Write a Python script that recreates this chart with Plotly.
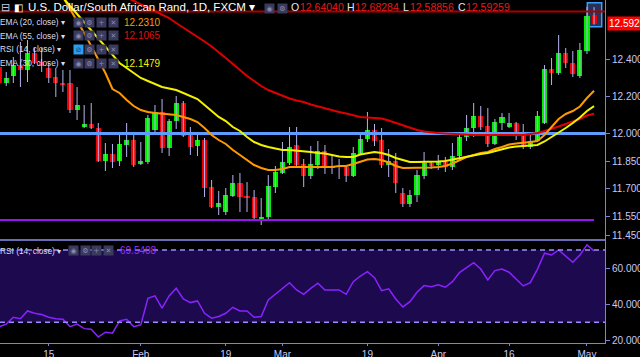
import plotly.graph_objects as go
import pandas as pd

# ---------------- data ----------------
dates = pd.bdate_range("2018-01-04", "2018-05-02")

opens = [12.3594, 12.2730, 12.3108, 12.3702, 12.3432, 12.4351, 12.3865, 12.3540, 12.3054, 12.2730,
         12.2730, 12.1270, 12.0351, 12.0513, 12.0297, 11.8513, 11.8892, 11.8513, 11.9378, 11.9648,
         11.8351, 11.8459, 12.0189, 12.1162, 11.9216, 12.0675, 12.1648, 11.9973, 11.9324, 11.9648,
         11.7108, 11.6027, 11.5757, 11.6621, 11.7324, 11.6621, 11.6567, 11.5324, 11.5486, 11.7108,
         11.7865, 11.8405, 11.9378, 11.8351, 11.7702, 11.8297, 11.9054, 11.8135, 11.8243, 11.8189,
         11.7702, 11.8892, 11.9702, 12.0189, 11.9648, 11.8297, 11.8513, 11.6784, 11.6189, 11.6675,
         11.7702, 11.8405, 11.8297, 11.8459, 11.8189, 11.8784, 11.9811, 12.0297, 12.0946, 12.0405,
         11.9432, 12.0567, 12.0351, 12.0567, 11.9973, 11.9270, 11.9594, 12.0567, 12.3486, 12.3270,
         12.4351, 12.3811, 12.3108, 12.4459, 12.64040]
highs = [12.3865, 12.3324, 12.4135, 12.4946, 12.5054, 12.4621, 12.4621, 12.3811, 12.3540, 12.3432,
         12.3432, 12.2513, 12.1540, 12.1648, 12.0567, 11.9486, 11.9432, 12.0027, 12.0567, 11.9919,
         11.9540, 12.1000, 12.1540, 12.1865, 12.0784, 12.2027, 12.1757, 12.0351, 12.0027, 11.9757,
         11.7486, 11.6892, 11.7054, 11.7757, 11.7865, 11.7378, 11.6946, 11.6513, 11.7757, 11.8243,
         11.9540, 12.0351, 12.0351, 11.8621, 11.9324, 11.9594, 11.9378, 11.8784, 11.8621, 11.8297,
         11.9270, 12.0081, 12.1162, 12.0513, 12.0297, 11.9162, 11.8946, 11.7054, 11.6946, 11.8027,
         11.9000, 11.8459, 11.8838, 11.8730, 11.9486, 11.9973, 12.1000, 12.1648, 12.1486, 12.1378,
         12.0784, 12.1108, 12.1108, 12.0621, 12.0513, 11.9973, 12.1216, 12.3702, 12.4081, 12.5324,
         12.4621, 12.4459, 12.4892, 12.6838, 12.68284]
lows = [12.2567, 12.2567, 12.2730, 12.2513, 12.2784, 12.3757, 12.3324, 12.2730, 12.1973, 12.2243,
        12.1108, 12.0730, 12.0297, 12.0243, 11.8459, 11.7973, 11.8135, 11.8243, 11.8730, 11.8189,
        11.8297, 11.8351, 11.9919, 11.8946, 11.8784, 12.0243, 11.9811, 11.8838, 11.8784, 11.6567,
        11.5973, 11.5594, 11.5594, 11.6567, 11.5757, 11.5757, 11.5378, 11.5054, 11.5270, 11.6784,
        11.7811, 11.8297, 11.8243, 11.7108, 11.7540, 11.8081, 11.7811, 11.7811, 11.7540, 11.7378,
        11.7648, 11.8838, 11.9540, 11.9324, 11.8135, 11.7648, 11.6784, 11.6027, 11.6027, 11.6297,
        11.7540, 11.8081, 11.8027, 11.7919, 11.8027, 11.8567, 11.9594, 11.9811, 12.0189, 11.9270,
        11.9378, 12.0189, 12.0297, 11.9648, 11.9162, 11.9162, 11.9540, 12.0513, 12.2621, 12.3162,
        12.3540, 12.3054, 12.3000, 12.4297, 12.58856]
closes = [12.2730, 12.3000, 12.3702, 12.3432, 12.4351, 12.3811, 12.3648, 12.3000, 12.2730, 12.2621,
          12.1270, 12.1540, 12.0513, 12.0297, 11.8513, 11.8892, 11.8459, 11.9432, 11.9648, 11.8297,
          11.8513, 12.0838, 12.1162, 11.9216, 12.0675, 12.1648, 11.9865, 11.9270, 11.9648, 11.7054,
          11.6027, 11.6243, 11.6675, 11.7324, 11.6567, 11.6513, 11.5432, 11.5486, 11.7162, 11.7919,
          11.8459, 11.9270, 11.8297, 11.7702, 11.8351, 11.9054, 11.8189, 11.8243, 11.8189, 11.7702,
          11.8946, 11.9702, 12.0189, 11.9594, 11.8297, 11.8513, 11.7324, 11.6189, 11.6675, 11.7757,
          11.8405, 11.8243, 11.8459, 11.8189, 11.8784, 11.9811, 12.0297, 12.0946, 12.0351, 11.9432,
          12.0621, 12.0892, 12.0567, 11.9973, 11.9270, 11.9594, 12.0946, 12.3486, 12.3270, 12.4351,
          12.3811, 12.3216, 12.4513, 12.6351, 12.59259]

N = None
ema20 = [N, N, N, N, N, N, N, N,
         12.8027, 12.7378, 12.6784, 12.6135, 12.5432, 12.4730, 12.4027, 12.3270, 12.2405, 12.2189,
         12.1810, 12.1486, 12.1270, 12.1162, 12.1108, 12.1081, 12.1054, 12.1000, 12.0892, 12.0784,
         12.0621, 12.0297, 11.9919, 11.9648, 11.9432, 11.9108, 11.8838, 11.8567, 11.8297, 11.8135,
         11.8027, 11.8027, 11.8081, 11.8189, 11.8189, 11.8189, 11.8189, 11.8189, 11.8216, 11.8189,
         11.8243, 11.8243, 11.8351, 11.8459, 11.8594, 11.8621, 11.8567, 11.8432, 11.8243, 11.8135,
         11.8135, 11.8135, 11.8135, 11.8162, 11.8189, 11.8243, 11.8378, 11.8567, 11.8730, 11.8838,
         11.8946, 11.9000, 11.9162, 11.9270, 11.9405, 11.9459, 11.9486, 11.9540, 11.9594, 11.9919,
         12.0351, 12.0784, 12.1054, 12.1216, 12.1459, 12.1919, 12.2310]
ema30 = [N, N, N, N, N, N, N, N,
         12.7811, 12.7324, 12.6892, 12.6459, 12.6027, 12.5595, 12.5162, 12.4730, 12.4243, 12.3811,
         12.3540, 12.3270, 12.3000, 12.2838, 12.2675, 12.2513, 12.2432, 12.2351, 12.2189, 12.2027,
         12.1865, 12.1540, 12.1216, 12.0892, 12.0675, 12.0351, 12.0135, 11.9811, 11.9540, 11.9378,
         11.9270, 11.9189, 11.9108, 11.9108, 11.9081, 11.9054, 11.9000, 11.8946, 11.8919, 11.8838,
         11.8757, 11.8730, 11.8730, 11.8865, 11.8946, 11.9000, 11.8946, 11.8838, 11.8676, 11.8567,
         11.8459, 11.8459, 11.8459, 11.8459, 11.8486, 11.8513, 11.8594, 11.8676, 11.8757, 11.8838,
         11.8892, 11.8946, 11.9054, 11.9135, 11.9243, 11.9297, 11.9324, 11.9351, 11.9378, 11.9567,
         11.9811, 12.0027, 12.0297, 12.0567, 12.0865, 12.1216, 12.1479]
ema55 = [N] * 17 + [
         12.7540, 12.7351, 12.7162, 12.6973, 12.6784, 12.6621, 12.6432, 12.6243, 12.5973, 12.5730,
         12.5486, 12.5243, 12.4973, 12.4703, 12.4405, 12.4081, 12.3757, 12.3432, 12.3108, 12.2838,
         12.2567, 12.2351, 12.2189, 12.2027, 12.1892, 12.1784, 12.1703, 12.1567, 12.1459, 12.1351,
         12.1270, 12.1162, 12.1081, 12.0973, 12.0892, 12.0865, 12.0838, 12.0811, 12.0703, 12.0567,
         12.0432, 12.0297, 12.0189, 12.0108, 12.0054, 12.0027, 12.0000, 11.9973, 11.9946, 11.9919,
         11.9919, 11.9919, 11.9919, 11.9919, 11.9919, 11.9919, 11.9919, 11.9919, 11.9973, 12.0027,
         12.0135, 12.0243, 12.0378, 12.0513, 12.0648, 12.0784, 12.0973, 12.1065]
rsi = [27.6, 29.0, 32.8, 32.0, 36.3, 35.0, 34.3, 32.8, 32.0, 31.7,
       27.6, 29.0, 26.5, 26.2, 21.9, 24.5, 24.0, 30.8, 31.7, 27.6,
       28.6, 43.3, 44.6, 37.8, 44.6, 48.8, 42.9, 40.9, 41.8, 35.0,
       32.3, 33.2, 35.0, 38.3, 36.3, 36.3, 32.8, 33.2, 42.4, 45.5,
       48.3, 51.9, 47.9, 45.5, 48.8, 51.6, 47.9, 47.9, 47.9, 45.5,
       52.5, 55.6, 58.0, 54.7, 47.5, 48.5, 42.9, 38.5, 41.4, 46.6,
       50.3, 49.7, 50.7, 49.4, 52.5, 57.5, 60.4, 63.0, 59.5, 53.4,
       58.6, 59.5, 57.7, 54.0, 50.1, 51.9, 59.3, 68.2, 67.2, 70.0,
       66.7, 63.2, 67.2, 72.8, 69.54]

level_top = 12.66
level_blue = 12.00
level_purple = 11.532

price_ticks = [12.40, 12.20, 12.00, 11.85, 11.70, 11.55, 11.45]
rsi_ticks = [60, 40, 20]
tick_dates = ["2018-01-15", "2018-02-01", "2018-02-19", "2018-03-01",
              "2018-03-19", "2018-04-02", "2018-04-16", "2018-05-01"]
tick_labels = ["15", "Feb", "19", "Mar", "19", "Apr", "16", "May"]

# ---------------- layout constants ----------------
W, H = 640, 357
PW, PH = 605, 343          # plot area size in px
x_range = [0.118, 85.546]
price_range = [11.4243, 12.7216]
rsi_range = [18.55, 75.53]
split = 0.3003

AX = "#8080e0"
TXT = "#c8c8f4"
FONT = "Liberation Sans, Arial, sans-serif"

x = list(range(len(dates)))
date_str = [d.strftime("%Y-%m-%d") for d in dates]
tick_x = [date_str.index(d) for d in tick_dates]

fig = go.Figure()

# wicks
wx, wy = [], []
for i in x:
    wx += [i, i, None]
    wy += [lows[i], highs[i], None]
fig.add_trace(go.Scatter(x=wx, y=wy, mode="lines", line=dict(color="#b4b4f0", width=1),
                         hoverinfo="skip", showlegend=False, yaxis="y"))
# bodies
base = [min(o, c) for o, c in zip(opens, closes)]
height = [max(abs(c - o), 0.0012) for o, c in zip(opens, closes)]
cols = ["#00ee00" if c >= o else "#ee0000" for o, c in zip(opens, closes)]
fig.add_trace(go.Bar(x=x, y=height, base=base, width=0.72, marker=dict(color=cols, line=dict(width=0)),
                     showlegend=False, yaxis="y", hoverinfo="skip"))

# horizontal levels
fig.add_trace(go.Scatter(x=x_range, y=[level_top, level_top], mode="lines",
                         line=dict(color="#a80000", width=2), showlegend=False, hoverinfo="skip"))
fig.add_trace(go.Scatter(x=x_range, y=[level_blue, level_blue], mode="lines",
                         line=dict(color="#5c9dff", width=3), showlegend=False, hoverinfo="skip"))
fig.add_trace(go.Scatter(x=[x_range[0], x[-1]], y=[level_purple, level_purple], mode="lines",
                         line=dict(color="#9a12f0", width=2), showlegend=False, hoverinfo="skip"))

# EMAs
fig.add_trace(go.Scatter(x=x, y=ema55, mode="lines", line=dict(color="#dd0000", width=2),
                         showlegend=False, hoverinfo="skip"))
fig.add_trace(go.Scatter(x=x, y=ema20, mode="lines", line=dict(color="#ff9900", width=2),
                         showlegend=False, hoverinfo="skip"))
fig.add_trace(go.Scatter(x=x, y=ema30, mode="lines", line=dict(color="#f2f200", width=2),
                         showlegend=False, hoverinfo="skip"))

# RSI
fig.add_trace(go.Scatter(x=x, y=rsi, mode="lines", line=dict(color="#8a22ff", width=1.5),
                         showlegend=False, hoverinfo="skip", yaxis="y2"))

shapes = [
    dict(type="rect", xref="paper", yref="y2", x0=0, x1=1, y0=30, y1=70,
         fillcolor="#1d0a4e", line=dict(width=0), layer="below"),
    dict(type="line", xref="paper", yref="y2", x0=0, x1=1, y0=70, y1=70,
         line=dict(color="#9c8cff", width=1.5, dash="5px,4px")),
    dict(type="line", xref="paper", yref="y2", x0=0, x1=1, y0=30, y1=30,
         line=dict(color="#9c8cff", width=1.5, dash="5px,4px")),
    dict(type="line", xref="paper", yref="paper", x0=0, x1=1, y0=split, y1=split,
         line=dict(color="#9090f0", width=1.5)),
    dict(type="rect", xref="x", yref="y", x0=83.05, x1=85.08, y0=12.577, y1=12.707,
         fillcolor="rgba(90,110,190,0.45)", line=dict(color="#39a0ff", width=1.5), layer="below"),
]


def pp(xp, yp):
    return xp / PW, (PH - yp) / PH


ann = []


def text(xp, yp, s, color="#e6e6f6", size=10):
    ax_, ay_ = pp(xp, yp)
    ann.append(dict(x=ax_, y=ay_, xref="paper", yref="paper", text=s, showarrow=False,
                    xanchor="left", yanchor="middle", borderpad=0,
                    font=dict(family=FONT, size=size, color=color)))


def box(xp, yp, sym, bg="#3a3a5e", fg="#8a8ab0"):
    ax_, ay_ = pp(xp, yp)
    ann.append(dict(x=ax_, y=ay_, xref="paper", yref="paper", text=sym, showarrow=False,
                    xanchor="left", yanchor="middle", width=9, height=9, bgcolor=bg, borderpad=0,
                    font=dict(family="DejaVu Sans", size=7, color=fg), align="center"))


# title row
text(0, 7.5, "⊟", "#c8c8e0", 11)
text(13, 7.5, "◧", "#ffffff", 10)
text(27, 7.5, "U.S. Dollar/South African Rand, 1D, FXCM ▾", "#ffffff", 11.5)
box(264, 8, "◉")
box(276.5, 8, "⚙")
red_txt = "#e81818"
text(290, 7.5, "O", "#e6e6f6", 10.5)
text(299, 7.5, "12.64040", red_txt, 10.5)
text(346, 7.5, "H", "#e6e6f6", 10.5)
text(354, 7.5, "12.68284", red_txt, 10.5)
text(402, 7.5, "L", "#e6e6f6", 10.5)
text(409, 7.5, "12.58856", red_txt, 10.5)
text(457, 7.5, "C", "#e6e6f6", 10.5)
text(465, 7.5, "12.59259", red_txt, 10.5)

rows = [("EMA (20, close) ▾", "12.2310", "#ff9900", 22.3),
        ("EMA (55, close) ▾", "12.1065", "#dd1111", 35.8),
        ("RSI (14, close) ▾", "", "#8a22ff", 49.5),
        ("EMA (30, close) ▾", "12.1479", "#f2f200", 63.2)]
for k, (lab, val, colr, yp) in enumerate(rows):
    text(-1, yp, lab, "#dcdcf0", 8.3)
    if k == 2:
        box(72.5, yp, "⊘", bg="#2c9ef0", fg="#1a3a60")
    else:
        box(72.5, yp, "◉")
    box(84.2, yp, "⚙")
    box(95.9, yp, "+")
    box(107.6, yp, "✕")
    if val:
        text(123, yp, val, colr, 10)

# RSI panel legend
text(-1, 250.5, "RSI (14, close) ▾", "#dcdcf0", 8.3)
box(68, 250.5, "◉")
box(79.7, 250.5, "⚙")
box(91.4, 250.5, "+")
box(103.1, 250.5, "✕")
text(119, 250.5, "69.5408", "#9a30ff", 10)

# last price label
ann.append(dict(x=1, y=closes[-1], xref="paper", yref="y", text="12.59259", showarrow=False,
                xanchor="left", yanchor="middle", xshift=2, bgcolor="#ff0000", borderpad=1,
                font=dict(family=FONT, size=10, color="#ffffff")))

fig.update_layout(
    width=W, height=H, autosize=False,
    margin=dict(l=0, r=W - PW, t=0, b=H - PH, pad=0),
    paper_bgcolor="#000000", plot_bgcolor="#000000",
    showlegend=False, bargap=0,
    shapes=shapes, annotations=ann,
    font=dict(family=FONT, size=10, color=TXT),
    xaxis=dict(domain=[0, 1], range=x_range, anchor="y2", showgrid=False, zeroline=False,
               automargin=False, fixedrange=True,
               showline=True, linecolor=AX, linewidth=1, tickvals=tick_x, ticktext=tick_labels,
               ticks="outside", ticklen=2, tickcolor=AX,
               tickfont=dict(size=10, color=TXT, family=FONT)),
    yaxis=dict(domain=[split, 1], range=price_range, side="right", anchor="x", showgrid=False,
               automargin=False, fixedrange=True,
               zeroline=False, showline=True, linecolor=AX, linewidth=1, tickvals=price_ticks,
               ticktext=[f"{v:.5f}" for v in price_ticks], ticks="outside", ticklen=4, tickcolor=AX,
               tickfont=dict(size=10, color=TXT, family=FONT)),
    yaxis2=dict(domain=[0, split], range=rsi_range, side="right", anchor="x", showgrid=False,
                automargin=False, fixedrange=True,
                zeroline=False, showline=True, linecolor=AX, linewidth=1, tickvals=rsi_ticks,
                ticktext=[f"{v:.4f}" for v in rsi_ticks], ticks="outside", ticklen=4, tickcolor=AX,
                tickfont=dict(size=10, color=TXT, family=FONT)),
)

fig.write_html("out.html", config={"displayModeBar": False},
               post_script="document.body.style.margin='0px';document.body.style.background='#000';")
